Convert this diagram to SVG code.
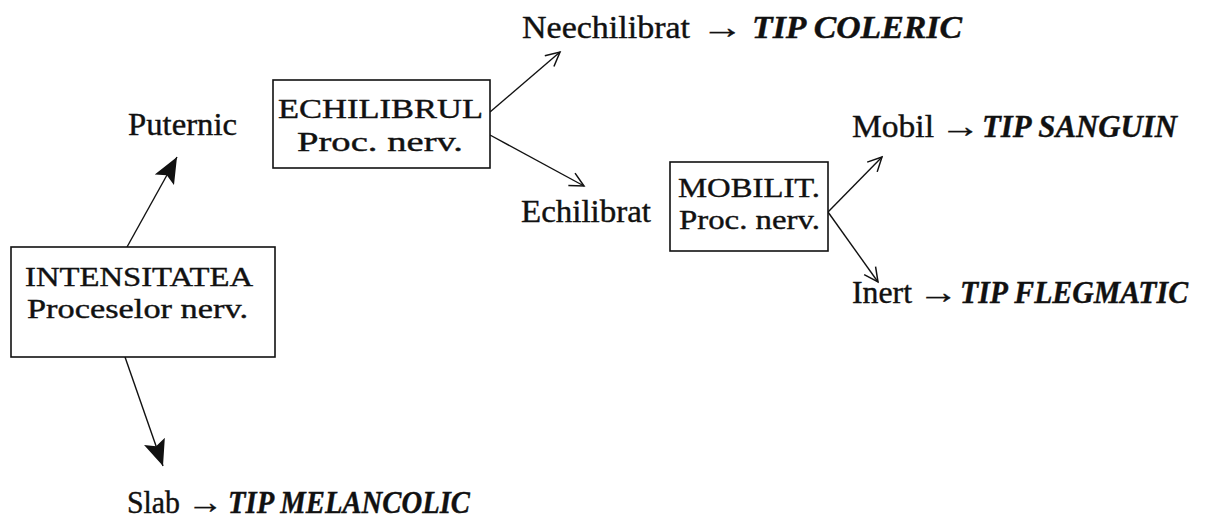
<svg xmlns="http://www.w3.org/2000/svg" width="1219" height="521" viewBox="0 0 1219 521">
  <style>
    .t { font-family: "Liberation Serif", "Times New Roman", serif; font-size: 32px; fill: #111; stroke: #111; stroke-width: 0.4; }
    .in { font-size: 28px; }
    .bi { font-weight: bold; font-style: italic; }
    .box { fill: #fff; stroke: #111; stroke-width: 1.6; }
    .edge { fill: none; stroke: #111; stroke-width: 1.4; }
    .open { marker-end: url(#openHead); }
    .solid { marker-end: url(#solidHead); }
  </style>
  <defs>
    <marker id="openHead" markerUnits="userSpaceOnUse" markerWidth="20" markerHeight="20" viewBox="0 0 20 20" refX="18" refY="10" orient="auto">
      <path d="M4,3 L18,10 L4,17" fill="none" stroke="#111" stroke-width="1.5"/>
    </marker>
    <marker id="solidHead" markerUnits="userSpaceOnUse" markerWidth="28" markerHeight="24" viewBox="0 0 28 24" refX="26" refY="12" orient="auto">
      <path d="M0,1 L26,12 L0,23 L5,12 Z" fill="#111"/>
    </marker>
  </defs>
  <rect width="1219" height="521" fill="#fff"/>

  <!-- arrows between the boxes and the outcome labels -->
  <g id="connectors">
    <line class="edge solid" x1="127" y1="247" x2="177" y2="157"/>
    <line class="edge solid" x1="125" y1="357" x2="163" y2="466"/>
    <line class="edge open" x1="490" y1="112" x2="560" y2="52"/>
    <line class="edge open" x1="490" y1="135" x2="584" y2="186"/>
    <line class="edge open" x1="828" y1="212" x2="882" y2="157"/>
    <line class="edge open" x1="828" y1="212" x2="878" y2="282"/>
  </g>

  <g id="intensitatea">
    <rect class="box" x="11" y="247" width="264" height="110"/>
    <text class="t in" x="25" y="286" textLength="228" lengthAdjust="spacingAndGlyphs">INTENSITATEA</text>
    <text class="t in" x="27" y="318" textLength="221" lengthAdjust="spacingAndGlyphs">Proceselor nerv.</text>
  </g>

  <g id="puternic">
    <text class="t" x="128" y="135" textLength="109" lengthAdjust="spacingAndGlyphs">Puternic</text>
  </g>

  <g id="slab">
    <text class="t" y="513"><tspan x="127" textLength="53" lengthAdjust="spacingAndGlyphs">Slab</tspan><tspan x="187" textLength="36" lengthAdjust="spacingAndGlyphs">→</tspan><tspan class="bi" x="228" textLength="242" lengthAdjust="spacingAndGlyphs">TIP MELANCOLIC</tspan></text>
  </g>

  <g id="echilibrul">
    <rect class="box" x="273" y="80" width="217" height="88"/>
    <text class="t in" x="278" y="118" textLength="205" lengthAdjust="spacingAndGlyphs">ECHILIBRUL</text>
    <text class="t in" x="297" y="151" textLength="166" lengthAdjust="spacingAndGlyphs">Proc. nerv.</text>
  </g>

  <g id="neechilibrat">
    <text class="t" y="38"><tspan x="522" textLength="168" lengthAdjust="spacingAndGlyphs">Neechilibrat</tspan><tspan x="701" textLength="42" lengthAdjust="spacingAndGlyphs">→</tspan><tspan class="bi" x="752" textLength="210" lengthAdjust="spacingAndGlyphs">TIP COLERIC</tspan></text>
  </g>

  <g id="echilibrat">
    <text class="t" x="521" y="222" textLength="130" lengthAdjust="spacingAndGlyphs">Echilibrat</text>
  </g>

  <g id="mobilitatea">
    <rect class="box" x="670" y="162" width="158" height="89"/>
    <text class="t in" x="678" y="197" textLength="142" lengthAdjust="spacingAndGlyphs">MOBILIT.</text>
    <text class="t in" x="679" y="229" textLength="141" lengthAdjust="spacingAndGlyphs">Proc. nerv.</text>
  </g>

  <g id="mobil">
    <text class="t" y="137"><tspan x="852" textLength="82" lengthAdjust="spacingAndGlyphs">Mobil</tspan><tspan x="940" textLength="40" lengthAdjust="spacingAndGlyphs">→</tspan><tspan class="bi" x="982" textLength="195" lengthAdjust="spacingAndGlyphs">TIP SANGUIN</tspan></text>
  </g>

  <g id="inert">
    <text class="t" y="303"><tspan x="852" textLength="60" lengthAdjust="spacingAndGlyphs">Inert</tspan><tspan x="918" textLength="40" lengthAdjust="spacingAndGlyphs">→</tspan><tspan class="bi" x="960" textLength="228" lengthAdjust="spacingAndGlyphs">TIP FLEGMATIC</tspan></text>
  </g>
</svg>
